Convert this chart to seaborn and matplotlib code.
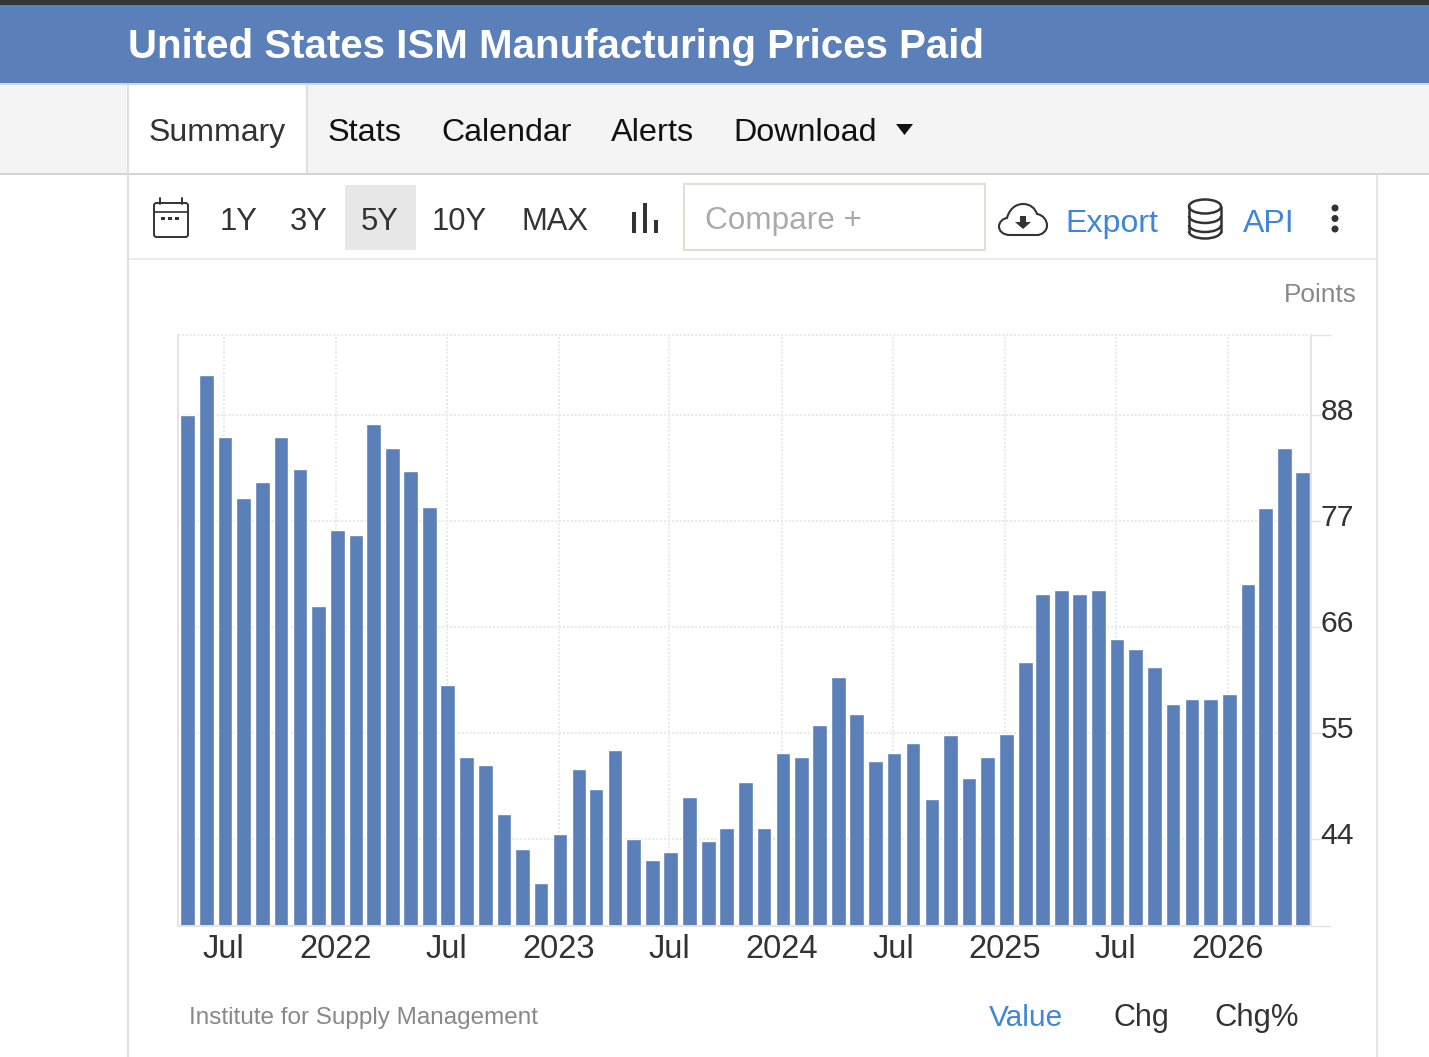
import matplotlib
matplotlib.use("Agg")
import matplotlib.pyplot as plt
import matplotlib.dates as mdates
from matplotlib.patches import Rectangle, FancyBboxPatch, Polygon, Ellipse, Arc, PathPatch
from matplotlib.path import Path
from matplotlib.transforms import ScaledTranslation
import pandas as pd
import seaborn as sns

TITLE = "United States ISM Manufacturing Prices Paid"
TABS = ["Summary", "Stats", "Calendar", "Alerts", "Download"]
RANGES = ["1Y", "3Y", "5Y", "10Y", "MAX"]

prices_paid = [
    88.0, 92.1, 85.7, 79.4, 81.0, 85.7, 82.4, 68.2, 76.1, 75.5, 87.1, 84.6,
    82.2, 78.5, 60.0, 52.5, 51.7, 46.6, 43.0, 39.4, 44.5, 51.3, 49.2, 53.2,
    44.0, 41.8, 42.6, 48.4, 43.8, 45.1, 49.9, 45.1, 52.9, 52.5, 55.8, 60.8,
    57.0, 52.1, 52.9, 54.0, 48.2, 54.8, 50.3, 52.5, 54.9, 62.4, 69.4, 69.8,
    69.4, 69.8, 64.8, 63.7, 61.9, 58.0, 58.5, 58.5, 59.0, 70.5, 78.3, 84.6,
    82.1,
]
months = pd.date_range("2021-05-03", periods=len(prices_paid), freq=pd.DateOffset(months=1))

tick_dates = ["2021-07-01", "2022-01-01", "2022-07-01", "2023-01-01", "2023-07-01",
              "2024-01-01", "2024-07-01", "2025-01-01", "2025-07-01", "2026-01-01"]
tick_names = ["Jul", "2022", "Jul", "2023", "Jul", "2024", "Jul", "2025", "Jul", "2026"]
value_ticks = [44, 55, 66, 77, 88]

W, H = 1429, 1057
BLUE = "#5b7fb8"
LINK = "#3f85dd"
INK = "#333333"
RULE = "#e4e4e4"
DOT = "#e8e8e8"
FONT = ["Liberation Sans", "DejaVu Sans"]

sns.set_theme(style="white")
plt.rcParams["font.family"] = FONT

fig = plt.figure(figsize=(W / 100, H / 100), dpi=100, facecolor="white")

# Page furniture lives on a full-figure axes measured in pixels.
ui = fig.add_axes([0, 0, 1, 1], zorder=0)
ui.set_xlim(0, W)
ui.set_ylim(H, 0)
ui.axis("off")


def box(x0, y0, x1, y1, color, **kw):
    ui.add_patch(Rectangle((x0, y0), x1 - x0, y1 - y0, facecolor=color, edgecolor="none", **kw))


def label(x, y, s, size, color=INK, **kw):
    ui.text(x, y, s, fontsize=size, color=color, va="baseline", **kw)


box(0, 0, W, 5, "#343638")
box(0, 5, W, 83, BLUE)
box(0, 83, W, 85, "#cfd8e5")
box(0, 85, W, 173, "#f4f4f4")
box(0, 173, W, 175, "#d4d4d4")
box(128, 85, 307, 173, "white")
box(127, 85, 129, H, "#e0e0e0")
box(306, 85, 308, 173, "#e0e0e0")
box(1376, 175, 1378, H, RULE)
box(129, 258, 1376, 260, "#ebebeb")
box(345, 185, 416, 250, "#e7e7e7")
ui.add_patch(Rectangle((684, 184), 301, 66, facecolor="white", edgecolor="#dfdfda", linewidth=1.5))

label(128, 58, TITLE, 29.0, "white", fontweight="bold")
for x, s, c, size in zip([149, 328, 441, 611, 733], TABS,
                         [INK, "#111111", "#111111", "#111111", "#111111"],
                         [23, 23.4, 23.1, 23.4, 23.2]):
    label(x, 141, s, size, c)
ui.add_patch(Polygon([(896, 124), (913, 124), (904.5, 135)], facecolor="#111111", edgecolor="none"))

for x, s in zip([220, 290, 361, 432, 522], RANGES):
    label(x, 230, s, 22.3)
label(705, 229, "Compare +", 22.7, "#aaaaaa")
label(1065, 232, "Export", 23.1, LINK)
label(1243, 232, "API", 23, LINK)
label(1284, 302, "Points", 18.9, "#888888")
label(189, 1024, "Institute for Supply Management", 17.5, "#888888")
label(989, 1026, "Value", 21.5, LINK)
label(1114, 1026, "Chg", 22)
label(1214, 1026, "Chg%", 22.3)

# Calendar icon
ui.add_patch(FancyBboxPatch((154, 203), 34, 34, boxstyle="round,pad=0,rounding_size=2.5",
                            facecolor="none", edgecolor=INK, linewidth=1.4))
ui.plot([154, 188], [212, 212], color=INK, lw=1.2)
for x in (160, 182):
    ui.plot([x, x], [198, 204], color=INK, lw=1.4)
for x in (161, 168, 175):
    box(x, 216.5, x + 4, 220, INK)

# Chart-type icon
for x0, top in zip((632, 643, 654), (212, 203, 220)):
    box(x0, top, x0 + 4.5, 233, INK)

# Cloud export icon
cloud = Path(
    [(1010, 235), (1003, 235), (999, 231), (999, 226.5), (999, 222), (1003, 218.5), (1007, 218),
     (1009, 210), (1015, 204), (1023, 204), (1030, 204), (1035, 208), (1037, 214),
     (1043, 215), (1047, 220), (1047, 225.5), (1047, 231), (1042, 235), (1037, 235), (1010, 235)],
    [Path.MOVETO] + [Path.CURVE4] * 18 + [Path.CLOSEPOLY],
)
ui.add_patch(PathPatch(cloud, facecolor="white", edgecolor=INK, linewidth=1.5))
ui.add_patch(Polygon([(1020, 216), (1026, 216), (1026, 222), (1031, 222), (1023, 229), (1015, 222), (1020, 222)],
                     facecolor=INK, edgecolor="none"))

# Database icon
ui.add_patch(Ellipse((1205, 206.5), 32, 14, facecolor="none", edgecolor=INK, linewidth=1.8))
for y in (216, 225, 231.5):
    ui.add_patch(Arc((1205, y), 32, 14, theta1=0, theta2=180, edgecolor=INK, linewidth=1.8))
ui.plot([1189, 1189], [206.5, 231.5], color=INK, lw=1.8)
ui.plot([1221, 1221], [206.5, 231.5], color=INK, lw=1.8)

# Overflow menu dots
for y in (208, 218.5, 229):
    ui.add_patch(Ellipse((1335, y), 7, 7, facecolor=INK, edgecolor="none"))

# Monthly bars on a true date axis
left, right, top, bottom = 178, 1311, 335, 926
ax = fig.add_axes([left / W, 1 - bottom / H, (right - left) / W, (bottom - top) / H], zorder=1)
ax.patch.set_alpha(0)

frame = pd.DataFrame({"month": mdates.date2num(months), "prices_paid": prices_paid})
sns.barplot(data=frame, x="month", y="prices_paid", native_scale=True, width=0.86,
            color=BLUE, saturation=1, errorbar=None, ax=ax, zorder=2)

tick_pos = mdates.date2num(pd.to_datetime(tick_dates))
px_per_day = (1228 - 336) / (tick_pos[9] - tick_pos[1])
ax.set_xlim(tick_pos[1] - (336 - left) / px_per_day, tick_pos[1] + (right - 336) / px_per_day)
y_scale = 106 / 11
y_min, y_max = 44 - (bottom - 839) / y_scale, 88 + (415 - top) / y_scale
ax.set_ylim(y_min, y_max)
ax.set_xlabel("")
ax.set_ylabel("")

ax.set_xticks(tick_pos, tick_names)
ax.set_yticks(value_ticks, [str(v) for v in value_ticks])
ax.set_yticks([y_min, y_max], minor=True)
ax.yaxis.tick_right()
ax.tick_params(axis="x", length=0, pad=5.5, labelsize=23.5, labelcolor=INK)
ax.tick_params(axis="y", which="major", right=True, length=7, width=1, color=RULE, pad=0,
               labelsize=21.7, labelcolor=INK)
ax.tick_params(axis="y", which="minor", right=True, length=14.5, width=1, color=RULE)
offset = ScaledTranslation(0, 6 / 100, fig.dpi_scale_trans)
for tick_label in ax.get_yticklabels():
    tick_label.set_transform(tick_label.get_transform() + offset)

ax.grid(True, which="major", color=DOT, linewidth=1.4, linestyle=(0, (1, 1)), zorder=0)
ax.set_axisbelow(True)
for name, spine in ax.spines.items():
    spine.set_visible(True)
    spine.set_color(RULE)
    spine.set_linewidth(1.4)
ax.spines["top"].set_linestyle((0, (1, 1)))
ax.spines["top"].set_capstyle("butt")
ax.spines["top"].set_color(DOT)

fig.savefig("out.png", dpi=100, facecolor="white")
